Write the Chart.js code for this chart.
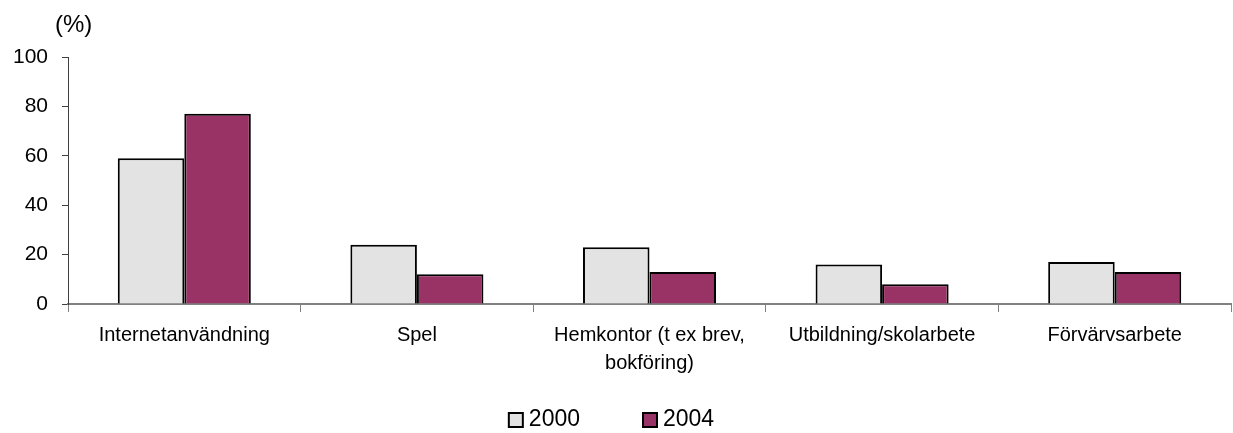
<!DOCTYPE html>
<html>
<head>
<meta charset="utf-8">
<script src="https://cdn.jsdelivr.net/npm/chart.js@4/dist/chart.umd.min.js"></script>
<style>
html,body{margin:0;padding:0;background:#fff;}
canvas{display:block;}
</style>
</head>
<body>
<canvas id="c" width="1233" height="433"></canvas>
<script>
const categories = [
  "Internetanvändning",
  "Spel",
  ["Hemkontor (t ex brev,", "bokföring)"],
  "Utbildning/skolarbete",
  "Förvärvsarbete"
];
const seriesNames = ["2000", "2004"];
const values2000 = [59, 24, 23, 16, 17];
const values2004 = [77, 12, 13, 8, 13];
const yTicks = [0, 20, 40, 60, 80, 100];
const unitLabel = "(%)";

const fills = ["#e3e3e3", "#993366"];

const customLegend = {
  id: "customLegend",
  afterDraw(chart) {
    const ctx = chart.ctx;
    ctx.save();
    ctx.font = "23px 'Liberation Sans', Arial, sans-serif";
    const box = 14, gap = 6, itemGap = 63;
    const widths = chart.data.datasets.map(d => ctx.measureText(d.label).width);
    let total = 0;
    widths.forEach((w, i) => { total += box + gap + w + (i ? itemGap : 0); });
    let x = chart.width / 2 - 5 - total / 2;
    const yMid = 420;
    chart.data.datasets.forEach((d, i) => {
      ctx.fillStyle = d.backgroundColor;
      ctx.fillRect(x, yMid - box / 2, box, box);
      ctx.lineWidth = 2;
      ctx.strokeStyle = "#000";
      ctx.strokeRect(x, yMid - box / 2, box, box);
      ctx.fillStyle = "#000";
      ctx.textBaseline = "middle";
      ctx.textAlign = "left";
      ctx.fillText(d.label, x + box + gap, yMid);
      x += box + gap + widths[i] + itemGap;
    });
    // unit label
    ctx.font = "24px 'Liberation Sans', Arial, sans-serif";
    ctx.textAlign = "left";
    ctx.textBaseline = "middle";
    ctx.fillText(unitLabel, 55, 25);
    ctx.restore();
  }
};

new Chart(document.getElementById("c"), {
  type: "bar",
  data: {
    labels: categories,
    datasets: [
      { label: seriesNames[0], data: values2000, backgroundColor: fills[0], borderColor: "#000", borderWidth: 2 },
      { label: seriesNames[1], data: values2004, backgroundColor: fills[1], borderColor: "#000", borderWidth: 2 }
    ]
  },
  options: {
    responsive: false,
    animation: false,
    devicePixelRatio: 1,
    categoryPercentage: 0.572,
    barPercentage: 1.0,
    layout: { padding: { top: 57, left: 0, right: 2, bottom: 0 } },
    plugins: { legend: { display: false }, tooltip: { enabled: false } },
    scales: {
      x: {
        grid: { drawOnChartArea: false, tickLength: 8, color: "#808080", lineWidth: 1 },
        border: { color: "#808080", width: 2 },
        ticks: {
          color: "#000",
          padding: 9,
          maxRotation: 0,
          autoSkip: false,
          font: { family: "'Liberation Sans', Arial, sans-serif", size: 20, lineHeight: 1.42 }
        },
        afterFit(s) { s.height = 129; }
      },
      y: {
        min: 0, max: 100,
        afterBuildTicks(s) { s.ticks = yTicks.map(v => ({ value: v })); },
        grid: { drawOnChartArea: false, tickLength: 6, color: "#404040" },
        border: { color: "#404040", width: 1 },
        ticks: {
          color: "#000",
          padding: 14,
          font: { family: "'Liberation Sans', Arial, sans-serif", size: 21 }
        },
        afterFit(s) { s.width = 68; }
      }
    }
  },
  plugins: [customLegend]
});
</script>
</body>
</html>
